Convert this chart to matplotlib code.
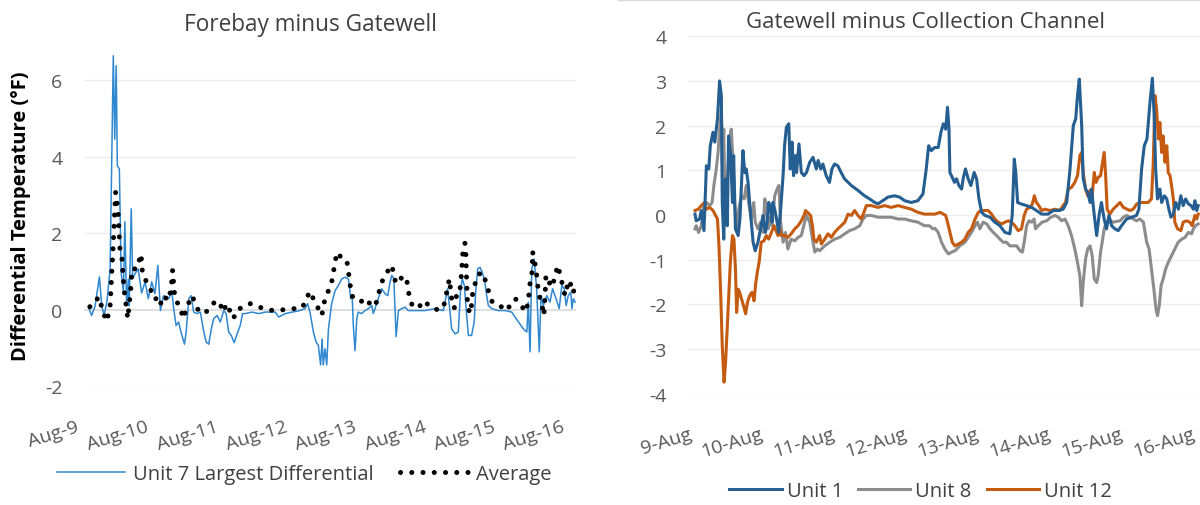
import numpy as np
import matplotlib.pyplot as plt
from matplotlib.lines import Line2D

plt.rcParams['font.family'] = ['Open Sans', 'DejaVu Sans']
plt.rcParams['axes.unicode_minus'] = False

# -------------------------------
# Data (hours since Aug 9 00:00, differential temperature in F)
# -------------------------------
u7_hours = [0.0, 0.9, 2.1, 3.6, 4.4, 5.2, 6.2, 7.3, 8.4, 8.9, 9.4, 9.8, 10.5, 11.1, 11.9,
            12.4, 13.0, 13.6, 13.9, 14.6, 15.1, 15.9, 17.0, 18.2, 19.4, 20.5, 21.7, 22.8,
            23.8, 24.7, 25.8, 27.6, 28.6, 29.3, 30.1, 31.0, 31.8, 33.0, 33.6, 34.5, 35.3,
            36.2, 37.3, 38.5, 39.7, 40.5, 41.4, 42.3, 43.1, 44.3, 45.4, 46.6, 47.4, 48.3,
            49.2, 50.2, 51.2, 52.3, 53.1, 54.0, 56.4, 58.7, 61.0, 64.4, 65.6, 67.9, 70.2,
            72.4, 74.7, 75.6, 76.4, 77.6, 78.5, 79.3, 80.1, 80.6, 81.0, 81.6, 82.2, 82.8,
            83.9, 85.1, 86.2, 87.4, 88.5, 89.7, 90.5, 91.0, 91.4, 92.0, 92.6, 93.1, 94.3,
            95.4, 96.6, 97.8, 98.3, 98.9, 100.0, 101.2, 102.4, 103.3, 104.1, 104.7, 105.4,
            106.2, 107.0, 108.1, 109.3, 110.4, 112.7, 116.2, 119.6, 122.5, 123.1, 124.0,
            124.8, 125.4, 126.6, 127.7, 128.5, 129.1, 129.8, 130.6, 131.2, 132.3, 133.2,
            133.7, 134.4, 135.2, 136.0, 136.9, 137.5, 138.1, 139.3, 141.5, 143.9, 146.2,
            147.3, 148.5, 150.2, 151.4, 151.9, 152.5, 153.1, 153.9, 154.8, 155.7, 156.3,
            157.1, 158.3, 159.4, 160.3, 161.5, 162.6, 163.5, 164.3, 165.0, 165.7, 166.6,
            167.0, 167.5, 168.1]
u7_diff = [0.03, -0.15, 0.10, 0.86, 0.11, -0.15, 0.21, 1.07, 6.64, 4.46, 6.38, 3.77, 3.68, 0.99,
           0.47, 2.30, 0.11, 0.80, 0.10, 2.64, 0.81, 0.94, 1.07, 0.44, 0.73, 0.29, 0.73, 0.42,
           1.16, -0.02, 0.37, 0.29, 0.50, 0.03, -0.41, -0.32, -0.58, -0.90, -0.58, 0.29, 0.37,
           -0.06, -0.10, -0.06, -0.58, -0.84, -0.90, -0.50, -0.23, -0.15, -0.32, -0.02, -0.10,
           -0.58, -0.67, -0.86, -0.63, -0.41, -0.10, -0.10, -0.06, -0.10, -0.06, -0.06, -0.19,
           -0.10, -0.06, -0.03, 0.03, 0.16, -0.06, -0.58, -0.84, -0.93, -1.44, -0.76, -1.44,
           -1.02, -1.44, -0.50, 0.16, 0.50, 0.63, 0.81, 0.85, 0.81, 0.29, 0.37, -0.41, -1.07,
           -0.23, -0.06, -0.10, -0.02, 0.03, 0.11, -0.10, 0.03, 0.29, 0.55, 0.42, 0.37, 0.72,
           0.90, 0.81, -0.70, -0.02, 0.03, 0.07, -0.02, -0.02, -0.02, 0.03, -0.02, 0.20, 0.55,
           -0.02, -0.50, -0.63, -0.58, 0.55, 0.81, 0.63, -0.15, -0.67, -0.67, -0.32, 0.46,
           1.07, 1.11, 0.98, 0.72, 0.37, 0.11, 0.03, -0.02, -0.02, -0.06, -0.19, -0.32, -0.50,
           -0.58, 0.20, -1.10, 1.07, 1.33, 0.55, -1.10, 0.37, 0.11, 0.37, 0.20, 0.55, 0.29,
           0.03, 0.64, 0.55, 0.11, 0.37, 0.46, 0.03, 0.29, 0.20]

avg_hours = [0.3, 2.1, 3.2, 4.4, 5.2, 6.2, 7.3, 8.3, 9.2, 10.0, 10.7, 11.4, 12.1, 13.4, 14.4,
             14.8, 16.5, 18.0, 18.5, 19.9, 21.1, 22.2, 23.5, 24.5, 25.8, 27.4, 28.4, 28.9,
             29.7, 31.5, 32.6, 33.8, 35.5, 36.7, 37.8, 39.8, 42.4, 43.6, 45.3, 46.4, 47.6,
             49.9, 51.5, 53.3, 55.7, 57.4, 60.2, 63.7, 67.1, 70.2, 73.3, 75.3, 76.1, 77.6,
             79.3, 80.5, 81.6, 82.8, 83.9, 84.5, 85.7, 87.1, 89.1, 89.5, 90.8, 92.0, 93.7,
             96.0, 97.5, 98.9, 100.0, 100.6, 102.0, 103.5, 104.9, 105.2, 106.4, 107.5, 109.5,
             110.4, 110.7, 111.8, 113.9, 115.6, 117.3, 119.3, 121.4, 122.5, 123.3, 124.6,
             125.4, 126.3, 127.5, 128.3, 128.9, 129.1, 129.4, 130.0, 130.3, 130.5, 130.9,
             131.7, 132.3, 132.8, 133.5, 134.4, 136.0, 137.5, 138.3, 139.4, 141.1, 143.3,
             144.5, 145.9, 147.3, 149.0, 150.8, 151.8, 152.6, 153.2, 153.4, 153.9, 154.6,
             155.0, 155.7, 156.5, 157.1, 157.3, 157.7, 158.0, 158.8, 159.7, 160.5, 161.1,
             162.2, 162.9, 163.8, 164.6, 165.4, 166.3, 166.9, 167.4, 168.1]
avg_diff = [0.08, 0.16, 0.34, 0.08, -0.13, -0.30, 0.11, 1.59, 3.07, 2.64, 1.59, 1.33, 0.55,
            -0.23, 0.50, 1.07, 1.07, 1.46, 0.94, 0.73, 0.59, 0.29, 0.29, 0.11, 0.37, 0.24,
            0.55, 1.03, 0.29, 0.07, -0.23, 0.05, 0.37, 0.20, -0.02, -0.10, 0.07, 0.24, 0.16,
            -0.06, 0.16, -0.23, 0.03, 0.05, 0.16, 0.13, 0.03, -0.02, 0.00, 0.03, 0.03, 0.24,
            0.48, 0.29, 0.03, -0.15, 0.29, 0.50, 0.72, 0.98, 1.50, 1.38, 1.31, 1.11, 0.37,
            0.29, 0.20, 0.30, 0.10, 0.10, 0.33, 0.59, 0.86, 1.03, 1.16, 0.88, 0.68, 0.81, 0.88,
            0.59, 0.33, 0.11, 0.04, 0.24, 0.13, 0.01, 0.01, 0.04, 0.31, 0.81, 0.29, 0.04, 0.55,
            0.55, 1.02, 1.33, 1.59, 1.74, 1.46, 0.94, 0.13, -0.10, 0.13, 0.55, 0.68, 0.91,
            0.98, 0.68, 0.44, 0.21, 0.10, 0.07, -0.02, 0.16, 0.29, 0.20, -0.06, 0.16, 0.77,
            0.98, 1.52, 1.28, 1.11, 0.72, 0.37, 0.16, -0.06, -0.15, 0.37, 0.90, 0.81, 0.59,
            0.68, 0.90, 1.16, 0.90, 0.64, 0.37, 0.63, 0.77, 0.50, 0.55, 0.33]

u1_hours = [0.0, 0.4, 1.5, 2.1, 3.0, 3.8, 4.6, 5.1, 6.0, 6.6, 7.5, 8.2, 8.8, 9.1, 9.6, 10.1,
            10.8, 11.2, 11.9, 12.5, 12.9, 13.5, 14.4, 15.0, 16.0, 16.6, 17.1, 17.7, 18.6,
            19.4, 20.1, 21.0, 21.9, 22.7, 23.5, 24.1, 24.6, 25.3, 25.7, 26.0, 26.6, 27.4,
            27.9, 28.6, 29.4, 29.9, 30.5, 31.3, 31.8, 32.4, 32.9, 33.5, 33.9, 34.7, 35.5,
            36.4, 37.2, 38.3, 39.4, 40.5, 41.1, 42.0, 42.7, 43.8, 44.9, 45.7, 46.6, 47.7,
            48.8, 49.9, 51.1, 52.2, 54.4, 56.6, 58.3, 60.0, 61.1, 62.7, 64.4, 66.6, 68.3,
            70.0, 72.2, 74.4, 76.1, 77.2, 78.0, 78.9, 80.0, 81.2, 82.1, 82.9, 83.7, 84.3,
            84.8, 85.1, 85.9, 86.6, 87.3, 88.1, 89.0, 89.6, 90.3, 91.2, 92.1, 93.2, 94.0,
            94.8, 95.7, 96.8, 98.5, 100.1, 101.8, 103.5, 105.1, 105.9, 106.6, 107.1, 107.7,
            108.8, 110.7, 112.4, 114.0, 115.7, 117.9, 119.6, 121.3, 122.9, 124.1, 125.2,
            126.3, 127.1, 127.7, 128.3, 129.1, 129.6, 130.4, 131.1, 131.9, 132.4, 133.3,
            134.1, 134.9, 135.7, 136.6, 137.4, 138.2, 139.1, 140.2, 141.3, 142.4, 144.1,
            145.8, 147.4, 148.2, 149.1, 150.0, 150.9, 151.9, 152.7, 153.3, 153.8, 154.4,
            155.2, 155.8, 156.7, 157.5, 158.2, 158.9, 159.7, 160.5, 161.4, 162.2, 163.0,
            163.8, 164.7, 165.6, 166.4, 166.9, 167.5, 168.0]
u1_diff = [0.02, -0.13, -0.09, 0.10, -0.35, 1.10, 1.03, 1.55, 1.85, 1.63, 2.15, 3.00, 2.67,
           0.28, -0.54, 0.81, -0.24, 1.77, 1.33, 0.28, 1.33, -0.31, -0.46, -0.09, 1.44, 0.95,
           1.03, 0.73, -0.01, -0.61, -0.80, -0.61, -0.31, -0.01, -0.39, -0.16, 0.28, 0.13,
           -0.16, 0.28, 0.13, -0.16, -0.39, 0.13, 0.88, 1.55, 1.96, 2.04, 1.03, 1.63, 0.88,
           1.33, 0.95, 1.59, 0.95, 0.88, 0.95, 1.18, 1.29, 1.03, 1.22, 1.03, 1.14, 0.88, 0.73,
           1.03, 1.14, 1.10, 0.95, 0.81, 0.73, 0.66, 0.55, 0.43, 0.36, 0.28, 0.25, 0.32, 0.40,
           0.43, 0.40, 0.32, 0.28, 0.32, 0.47, 1.03, 1.55, 1.44, 1.51, 1.51, 1.85, 2.04, 1.92,
           2.41, 1.92, 0.95, 0.84, 0.73, 0.81, 0.66, 0.58, 0.84, 1.03, 0.81, 0.66, 0.95, 0.81,
           0.36, 0.06, -0.01, -0.05, -0.16, -0.24, -0.39, -0.42, -0.01, 1.25, 0.95, 0.28, 0.25,
           0.21, 0.17, 0.10, 0.02, 0.02, 0.10, 0.10, 0.13, 0.28, 1.03, 2.00, 2.15, 2.67, 3.04,
           2.00, 0.81, 0.58, 0.51, 0.28, 0.58, -0.01, -0.46, -0.01, 0.28, -0.09, -0.31, -0.01,
           -0.24, -0.31, -0.35, -0.24, -0.09, -0.05, -0.01, 0.13, 1.03, 1.55, 1.70, 2.52, 3.06,
           2.22, 1.03, 0.36, 0.58, 0.28, 0.43, 0.36, 0.13, -0.05, 0.02, 0.28, 0.13, 0.43, 0.21,
           0.36, 0.25, 0.21, 0.13, 0.32, 0.10, 0.21]

u8_hours = [0.0, 0.4, 1.2, 2.1, 3.0, 3.8, 4.9, 5.7, 6.3, 7.1, 7.7, 8.2, 8.8, 9.1, 9.6, 9.9,
            10.5, 11.0, 11.6, 12.1, 12.7, 13.2, 13.8, 14.6, 15.5, 16.4, 17.1, 17.9, 18.8,
            19.6, 20.1, 21.0, 21.9, 22.7, 23.3, 23.9, 24.4, 25.1, 25.7, 26.6, 27.4, 28.0,
            28.6, 29.4, 30.2, 31.0, 32.1, 33.3, 34.4, 35.5, 36.6, 37.2, 38.3, 39.4, 40.0,
            40.9, 41.6, 43.3, 45.0, 46.6, 48.3, 50.0, 51.6, 53.3, 55.0, 56.1, 57.2, 58.9,
            61.1, 63.3, 65.5, 67.8, 70.0, 72.2, 74.4, 76.6, 78.3, 79.4, 80.1, 81.2, 82.3,
            83.4, 84.6, 85.7, 86.8, 88.4, 90.1, 91.2, 92.3, 93.5, 94.3, 95.1, 96.2, 97.4,
            98.5, 99.6, 100.7, 101.8, 102.9, 104.0, 105.1, 107.4, 108.5, 109.3, 109.9, 110.7,
            111.5, 112.4, 113.2, 113.7, 114.6, 115.9, 117.4, 118.8, 120.2, 121.3, 122.4,
            123.5, 124.6, 125.7, 126.8, 127.7, 128.5, 129.1, 129.6, 130.4, 131.1, 131.9,
            132.6, 133.3, 134.1, 134.6, 135.4, 136.1, 136.6, 137.4, 138.5, 139.6, 141.9,
            143.0, 144.1, 146.3, 147.4, 148.5, 149.7, 150.8, 151.6, 152.4, 153.2, 153.9,
            154.4, 155.0, 155.6, 156.3, 157.1, 158.0, 159.1, 160.2, 161.3, 162.5, 163.6,
            164.7, 165.8, 166.4, 167.1, 168.0]
u8_diff = [-0.31, -0.24, -0.39, -0.24, 0.21, 0.28, 0.21, 0.28, 0.66, 1.03, 1.40, 1.92, 2.37,
           1.18, 1.92, 0.66, 0.43, 1.03, 1.70, 1.92, 1.18, 0.28, -0.31, 0.13, 0.43, 0.36, 0.66,
           0.28, -0.09, 0.28, -0.16, -0.31, -0.16, -0.39, 0.36, 0.13, -0.31, -0.05, -0.24,
           0.43, 0.58, 0.66, -0.16, -0.61, -0.39, -0.76, -0.54, -0.58, -0.50, -0.46, -0.16,
           -0.01, -0.16, -0.61, -0.83, -0.76, -0.80, -0.69, -0.61, -0.54, -0.50, -0.42, -0.35,
           -0.31, -0.24, -0.09, -0.01, -0.01, -0.05, -0.05, -0.05, -0.09, -0.09, -0.13, -0.16,
           -0.24, -0.24, -0.31, -0.30, -0.39, -0.61, -0.76, -0.87, -0.83, -0.80, -0.69, -0.61,
           -0.50, -0.39, -0.24, -0.16, -0.31, -0.16, -0.20, -0.31, -0.39, -0.46, -0.54, -0.61,
           -0.61, -0.69, -0.69, -0.80, -0.83, -0.61, -0.24, -0.13, -0.16, -0.09, -0.31, -0.24,
           -0.16, -0.13, -0.05, -0.01, -0.05, -0.13, -0.09, -0.24, -0.46, -0.76, -1.06, -1.36,
           -2.03, -1.51, -0.98, -0.76, -0.69, -0.91, -1.43, -1.51, -1.36, -0.83, -0.54, -0.31,
           -0.16, -0.13, -0.16, -0.13, -0.05, -0.01, -0.09, -0.13, -0.09, -0.16, -0.61, -0.76,
           -1.21, -1.66, -2.10, -2.25, -2.03, -1.58, -1.43, -1.21, -1.06, -0.91, -0.76, -0.61,
           -0.54, -0.50, -0.39, -0.42, -0.31, -0.24, -0.20]

u12_hours = [0.0, 1.1, 2.1, 3.0, 3.8, 4.9, 6.0, 7.5, 8.0, 8.6, 9.1, 9.7, 10.2, 11.0, 11.8,
             12.5, 13.0, 13.5, 13.9, 14.4, 14.9, 16.2, 16.9, 17.5, 18.2, 19.0, 19.7, 20.3,
             20.8, 21.4, 22.1, 23.0, 23.8, 24.6, 25.5, 26.4, 27.7, 28.2, 28.8, 29.9, 31.0,
             32.1, 33.3, 34.4, 35.5, 36.4, 36.9, 38.6, 39.2, 39.7, 40.5, 41.6, 42.2, 43.3,
             44.4, 45.5, 46.6, 47.7, 48.8, 50.0, 51.1, 52.2, 53.3, 54.4, 55.5, 56.4, 57.2,
             58.9, 61.1, 63.3, 65.5, 67.8, 70.0, 72.2, 74.4, 76.6, 78.9, 80.1, 81.8, 83.7,
             84.3, 85.1, 85.9, 86.8, 87.9, 89.0, 90.1, 91.2, 92.3, 93.5, 94.6, 95.7, 97.9,
             99.0, 100.1, 101.2, 102.4, 103.5, 104.6, 105.7, 106.8, 107.9, 109.0, 109.9,
             110.7, 111.8, 112.6, 113.3, 114.0, 114.8, 115.7, 116.8, 118.5, 120.2, 121.8,
             122.9, 123.7, 124.6, 125.7, 126.8, 127.7, 128.5, 129.1, 129.6, 130.4, 131.1,
             131.9, 132.4, 133.3, 133.9, 134.6, 135.4, 136.1, 136.6, 137.1, 137.6, 138.5,
             139.6, 141.9, 143.0, 145.2, 146.3, 147.4, 148.5, 151.3, 152.4, 153.0, 153.6,
             154.1, 154.7, 155.2, 155.8, 156.3, 156.9, 157.5, 158.0, 158.6, 159.1, 159.7,
             160.2, 161.1, 162.2, 163.0, 164.1, 165.2, 166.0, 166.9, 167.5, 168.0]
u12_diff = [0.10, 0.13, 0.21, 0.27, 0.13, 0.17, 0.10, -0.09, -0.69, -1.81, -2.93, -3.74, -3.30,
            -2.18, -1.06, -0.46, -0.54, -1.21, -2.18, -1.66, -1.73, -2.03, -2.21, -1.96, -1.81,
            -1.73, -1.92, -1.51, -1.28, -1.06, -0.61, -0.58, -0.46, -0.54, -0.39, -0.24, -0.46,
            -0.31, -0.46, -0.46, -0.50, -0.42, -0.31, -0.24, -0.13, -0.01, 0.10, -0.01, -0.24,
            -0.54, -0.61, -0.46, -0.65, -0.54, -0.42, -0.50, -0.39, -0.31, -0.24, -0.16, 0.02,
            -0.01, 0.10, -0.01, -0.09, 0.06, 0.21, 0.21, 0.17, 0.21, 0.17, 0.21, 0.17, 0.13,
            0.06, 0.02, 0.02, 0.02, 0.06, -0.01, -0.16, -0.39, -0.61, -0.69, -0.65, -0.61, -0.54,
            -0.39, -0.31, -0.09, 0.06, 0.10, 0.10, 0.02, -0.09, -0.16, -0.20, -0.16, -0.13,
            -0.16, -0.24, -0.35, -0.31, -0.01, 0.13, 0.17, 0.24, 0.43, 0.28, 0.21, 0.10, 0.13,
            0.10, 0.13, 0.10, 0.21, 0.28, 0.58, 0.62, 0.73, 0.88, 1.33, 1.40, 0.95, 0.58, 0.43,
            0.55, 0.28, 0.95, 0.73, 0.84, 0.88, 1.18, 1.40, 0.88, 0.13, 0.02, 0.13, 0.28, 0.17,
            0.10, 0.13, 0.24, 0.28, 0.28, 0.36, 1.18, 2.67, 2.37, 1.70, 2.07, 1.40, 1.77, 1.18,
            1.55, 0.95, 0.88, 0.66, 0.36, -0.16, -0.31, -0.35, -0.16, -0.13, -0.16, -0.24,
            -0.01, -0.09, 0.02]

left_days = ['Aug-9', 'Aug-10', 'Aug-11', 'Aug-12', 'Aug-13', 'Aug-14', 'Aug-15', 'Aug-16']
right_days = ['9-Aug', '10-Aug', '11-Aug', '12-Aug', '13-Aug', '14-Aug', '15-Aug', '16-Aug']

# -------------------------------
# Figure layout (pixel based)
# -------------------------------
W, H = 1200, 506
fig = plt.figure(figsize=(W / 100, H / 100), dpi=100)


def px_axes(x0, y0, x1, y1):
    return fig.add_axes([x0 / W, 1 - y1 / H, (x1 - x0) / W, (y1 - y0) / H])


tick_col = '#595959'
grid_col = '#EDEDED'
fs_tick = 14
fs_leg = 14.5

# ----- left: Forebay minus Gatewell -----
ax1 = px_axes(84, 43, 576, 387.3)
ax1.set_xlim(-1.73, 168.4)
ax1.set_ylim(-2, 7)
ax1.set_yticks([-2, 0, 2, 4, 6])
for v in [-2, 2, 4, 6]:
    ax1.axhline(v, color=grid_col, lw=1, zorder=0)
ax1.axhline(0, color='#D9D9D9', lw=1.2, zorder=0)

ax1.plot(u7_hours, u7_diff, color='#2F87D0', lw=1.1, label='Unit 7 Largest Differential', zorder=2)
ax1.plot(avg_hours, avg_diff, color='black', lw=3.6, linestyle=(0, (0.01, 2.24)),
         dash_capstyle='round', label='Average', zorder=3)

# ----- right: Gatewell minus Collection Channel -----
ax2 = px_axes(688, 37.2, 1200, 394.8)
ax2.set_xlim(-2.34, 168.6)
ax2.set_ylim(-4, 4)
ax2.set_yticks(range(-4, 5))
for v in range(-4, 5):
    ax2.axhline(v, color=grid_col, lw=1, zorder=0)

ax2.plot(u1_hours, u1_diff, color='#255E91', lw=2.2, label='Unit 1', zorder=3)
ax2.plot(u8_hours, u8_diff, color='#8C8C8C', lw=2.2, label='Unit 8', zorder=2)
ax2.plot(u12_hours, u12_diff, color='#C55A11', lw=2.2, label='Unit 12', zorder=2)

for ax in (ax1, ax2):
    for s in ax.spines.values():
        s.set_visible(False)
    ax.set_xticks([])
    ax.tick_params(axis='y', length=0, pad=15.5, labelsize=fs_tick, labelcolor=tick_col)

# rotated date labels
for k, lab in enumerate(left_days):
    ax1.text(24 * k - 4.5, -0.09, lab, transform=ax1.get_xaxis_transform(), rotation=17,
             rotation_mode='anchor', ha='right', va='top', fontsize=fs_tick, color=tick_col,
             clip_on=False)
for k, lab in enumerate(right_days):
    ax2.text(24 * k - 2.3, -0.085, lab, transform=ax2.get_xaxis_transform(), rotation=17,
             rotation_mode='anchor', ha='right', va='top', fontsize=fs_tick, color=tick_col,
             clip_on=False)

# titles and axis label
fig.text(310 / W, 1 - 25 / H, 'Forebay minus Gatewell', ha='center', va='center',
         fontsize=16.3, color='#404040')
fig.text(925 / W, 1 - 22 / H, 'Gatewell minus Collection Channel', ha='center', va='center',
         fontsize=16, color='#404040')
fig.text(21 / W, 1 - 216 / H, 'Differential Temperature (°F)', rotation=90, ha='center',
         va='center', fontsize=14.5, fontweight='bold', color='black')

# legends
ax1.legend(loc='center', bbox_to_anchor=(304.5 / W, 1 - 475 / H), bbox_transform=fig.transFigure,
           ncol=2, frameon=False, fontsize=fs_leg, labelcolor='#404040', handlelength=3.38,
           handletextpad=0.4, columnspacing=1.29, borderpad=0, borderaxespad=0)
ax2.legend(loc='center', bbox_to_anchor=(920.5 / W, 1 - 492 / H), bbox_transform=fig.transFigure,
           ncol=3, frameon=False, fontsize=fs_leg, labelcolor='#404040', handlelength=2.59,
           handletextpad=0.25, columnspacing=0.75, borderpad=0, borderaxespad=0)

# top border of the right chart
fig.add_artist(Line2D([618 / W, 1.0], [1 - 1 / H, 1 - 1 / H], transform=fig.transFigure,
                      color='#D9D9D9', lw=1))

fig.savefig('out.png', dpi=100)
